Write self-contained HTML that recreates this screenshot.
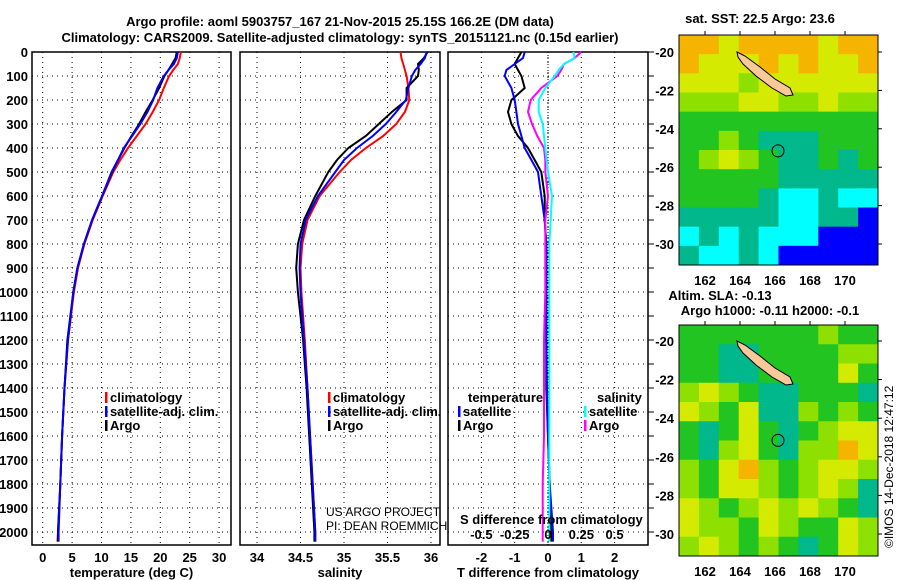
<!DOCTYPE html>
<html><head><meta charset="utf-8">
<style>
html,body{margin:0;padding:0;background:#fff;}
svg{display:block;font-family:"Liberation Sans",sans-serif;}
.b{font-weight:bold;font-size:13px;}
</style></head>
<body>
<svg id="s" width="900" height="580" xmlns="http://www.w3.org/2000/svg">
<text x="340" y="26" text-anchor="middle" class="b">Argo profile: aoml 5903757_167 21-Nov-2015 25.15S 166.2E (DM data)</text>
<text x="340" y="42" text-anchor="middle" class="b">Climatology: CARS2009. Satellite-adjusted climatology: synTS_20151121.nc (0.15d earlier)</text>
<g id="g"></g>
<text x="760" y="23" text-anchor="middle" class="b">sat. SST: 22.5 Argo: 23.6</text>
<text x="720" y="300" text-anchor="middle" class="b">Altim. SLA: -0.13</text>
<text x="770" y="315" text-anchor="middle" class="b">Argo h1000: -0.11 h2000: -0.1</text>
<text transform="translate(893,548) rotate(-90)" font-size="12">©IMOS 14-Dec-2018 12:47:12</text>
<text x="326" y="516" font-size="12">US ARGO PROJECT</text>
<text x="326" y="530" font-size="12">PI: DEAN ROEMMICH</text>
</svg>
<script>
// depth grid shared by profiles
const depths=[0,25,50,75,100,150,200,250,300,350,400,450,500,600,700,800,900,1000,1200,1400,1600,1800,2000,2040];
const tempClim=[23.5,23.3,23,22.2,21.5,20.6,19.8,18.7,17.5,16,14.5,13.2,12,10.2,8.5,7.1,6,5.3,4.3,3.7,3.3,3,2.6,2.5];
const tempSat=[23,22.8,22.3,21.4,20.6,19.5,18.8,17.8,16.6,15.2,13.8,12.8,11.7,10.1,8.4,7,5.9,5.2,4.3,3.7,3.3,3,2.7,2.7];
const tempArgo=[22.8,22.6,22,21.4,20.7,19.8,18.7,17.5,16.4,15.1,13.9,12.8,11.8,10.1,8.4,7,5.9,5.2,4.2,3.7,3.3,3,2.6,2.6];
const salClim=[35.65,35.66,35.68,35.7,35.72,35.74,35.75,35.7,35.6,35.45,35.25,35.08,34.95,34.72,34.58,34.52,34.5,34.51,34.55,34.58,34.61,34.64,34.67,34.67];
const salSat=[35.95,35.93,35.88,35.82,35.78,35.74,35.71,35.6,35.48,35.33,35.15,35.0,34.9,34.7,34.56,34.5,34.49,34.5,34.54,34.58,34.61,34.64,34.67,34.67];
const salArgo=[35.96,35.92,35.85,35.86,35.85,35.72,35.72,35.55,35.4,35.25,35.05,34.92,34.82,34.67,34.54,34.47,34.45,34.47,34.53,34.57,34.6,34.63,34.66,34.66];
const dTArgo=[-0.8,-0.9,-1.0,-0.9,-0.8,-0.7,-1.1,-1.2,-1.1,-0.9,-0.6,-0.4,-0.2,-0.1,-0.1,-0.05,-0.05,-0.05,-0.05,-0.05,0,0.05,0.1,0.1];
const dTSat=[-0.7,-0.75,-1.0,-1.25,-1.3,-1.1,-1.0,-0.95,-0.9,-0.8,-0.7,-0.5,-0.3,-0.2,-0.1,-0.05,-0.05,-0.05,-0.05,-0.03,0,0.05,0.15,0.15];
const dSSat=[0.19,0.2,0.12,0.08,0.05,-0.02,-0.07,-0.07,-0.04,-0.03,-0.02,-0.01,0,0.03,0.02,0.01,0.01,0.01,0.01,0.01,0.01,0.01,0.01,0.01];
const dSArgo=[0.25,0.2,0.12,0.1,0.07,-0.05,-0.13,-0.15,-0.12,-0.08,-0.03,-0.02,-0.02,0,-0.02,-0.02,-0.02,-0.02,-0.03,-0.03,-0.03,-0.04,-0.04,-0.04];
const depthTicks=[0,100,200,300,400,500,600,700,800,900,1000,1100,1200,1300,1400,1500,1600,1700,1800,1900,2000];
const tempTicks=[0,5,10,15,20,25,30];
const salTicks=[34,34.5,35,35.5,36];
const dTTicks=[-2,-1,0,1,2];
const dSTicks=["-0.5","-0.25","0","0.25","0.5"];
const map1Rows=["OOYOOOOYOO","OYYYOYOYYO","YYYLYYYYYY","LLLYYLLYLL","GGGGGGGGGG","GGLGTTTGGG","GLYLGTTGTG","GGGGGTTTTT","GGGGTCCTCC","TTTTTCCTTB","CTCTCCCBBB","TCCTCBBBBB"];
const map2Rows=["GGGGGGGLGG","GGTTGGGGLL","GGTTGGGGYG","LYLGTTGGGT","YLGYTTLGLG","GTGYGTGLYY","GTLYGTLLOY","LGYOLGLYYL","LGYYLGLYLT","YLGLYLYLGT","YLLGYLGGYL","LYLGLGTGYL"];
const lonTicks=[162,164,166,168,170];
const latTicks=[-20,-22,-24,-26,-28,-30];

const NS="http://www.w3.org/2000/svg";
const g=document.getElementById('g');
function mk(t,a,p){const e=document.createElementNS(NS,t);for(const k in a)e.setAttribute(k,a[k]);(p||g).appendChild(e);return e;}
const Y=d=>52+d*0.24, TOP=52, BOT=545;
const xT=v=>42.7+v*5.88, xS=v=>257+(v-34)*87, xD=v=>548+v*33.3, xDS=v=>548+v*133.2;
function panel(name,x0,x1,xt,ticks,labels,axisTitle){
  const grp=mk('g',{});
  
  
  ticks.forEach(t=>{const x=xt(t);mk('line',{x1:x,x2:x,y1:TOP,y2:BOT,stroke:'#000','stroke-dasharray':'1 4'},grp);});
  depthTicks.forEach(d=>{mk('line',{x1:x0,x2:x1,y1:Y(d),y2:Y(d),stroke:'#000','stroke-dasharray':'1 4'},grp);});
  mk('rect',{x:x0,y:TOP,width:x1-x0,height:BOT-TOP,fill:'none',stroke:'#000','stroke-width':1.5},grp);
  if(labels){ticks.forEach((t,i)=>{const e=mk('text',{x:xt(t),y:562,'text-anchor':'middle',class:'b'},grp);e.textContent=labels[i];});}
  const at=mk('text',{x:(x0+x1)/2,y:577,'text-anchor':'middle',class:'b'},grp);at.textContent=axisTitle;
  return grp;
}
function line(grp,xs,xf,col,name,w){
  const p=mk('polyline',{points:xs.map((v,i)=>xf(v).toFixed(1)+','+Y(depths[i]).toFixed(1)).join(' '),fill:'none',stroke:col,'stroke-width':w||2},grp);
  
  
}
function legend(grp,x,y,items){
  items.forEach((it,i)=>{mk('rect',{x:x,y:y+i*14-10,width:2.5,height:11,fill:it[1]},grp);
    const t=mk('text',{x:x+5,y:y+i*14,class:'b','font-size':12},grp);t.textContent=it[0];
    
    });
}
depthTicks.forEach(d=>{const t=mk('text',{x:28,y:Y(d)+5,'text-anchor':'end',class:'b'});t.textContent=d;});
const p1=panel('temperature-panel',32,231,xT,tempTicks,tempTicks,'temperature (deg C)');
line(p1,tempClim,xT,'#f00','temp-climatology-line');line(p1,tempArgo,xT,'#000','temp-argo-line');line(p1,tempSat,xT,'#00f','temp-satellite-line');
legend(p1,105,402,[['climatology','#f00'],['satellite-adj. clim.','#00f'],['Argo','#000']]);
const p2=panel('salinity-panel',240,440,xS,salTicks,salTicks,'salinity');
line(p2,salClim,xS,'#f00','sal-climatology-line');line(p2,salArgo,xS,'#000','sal-argo-line');line(p2,salSat,xS,'#00f','sal-satellite-line');
legend(p2,328,402,[['climatology','#f00'],['satellite-adj. clim.','#00f'],['Argo','#000']]);
const p3=panel('difference-panel',448,648,xD,dTTicks,dTTicks,'T difference from climatology');
depthTicks.forEach(d=>mk('line',{x1:648,x2:654,y1:Y(d),y2:Y(d),stroke:'#000'},p3));
mk('line',{x1:548,x2:548,y1:TOP,y2:BOT,stroke:'#000','stroke-dasharray':'1 2'},p3);
line(p3,dTArgo,xD,'#000','dT-argo-line');line(p3,dTSat,xD,'#00f','dT-satellite-line');
line(p3,dSArgo,xDS,'#f0f','dS-argo-line');line(p3,dSSat,xDS,'#0ff','dS-satellite-line');
legend(p3,458,416,[['satellite','#00f'],['Argo','#000']]);
legend(p3,584,416,[['satellite','#0ff'],['Argo','#f0f']]);
let tt=mk('text',{x:468,y:402,class:'b','font-size':12},p3);tt.textContent='temperature';
tt=mk('text',{x:597,y:402,class:'b','font-size':12},p3);tt.textContent='salinity';
tt=mk('text',{x:460,y:524,class:'b','font-size':12},p3);tt.textContent='S difference from climatology';
dSTicks.forEach((l,i)=>{const t=mk('text',{x:xDS(parseFloat(l)),y:539,'text-anchor':'middle',class:'b','font-size':12},p3);t.textContent=l;});
const pal={O:'#f4b400',Y:'#d4ea00',L:'#8ee000',G:'#22c422',T:'#00b88c',C:'#00ffff',B:'#0000ff'};
function map(name,x0,y0,w,h,rows,lat20,lat30,lonY,dy){
  const grp=mk('g',{});
  
  
  const cw=w/10,ch=h/rows.length;
  rows.forEach((r,i)=>[...r].forEach((c,j)=>mk('rect',{x:x0+j*cw,y:y0+i*ch,width:cw+0.5,height:ch+0.5,fill:pal[c]},grp)));
  const isl=mk('polygon',{points:[[737,52],[745,56],[760,67],[775,79],[790,88],[793,95],[786,96],[772,88],[756,76],[743,64],[738,57]].map(p=>p[0]+','+(p[1]+dy)).join(' '),fill:'#fbc89a',stroke:'#000'},grp);
  
  
  mk('circle',{cx:778,cy:lat20+(25.15-20)*(lat30-lat20)/10,r:6,fill:'none',stroke:'#000'},grp);
  mk('rect',{x:x0,y:y0,width:w,height:h,fill:'none',stroke:'#000'},grp);
  const lx=l=>705+(l-162)*17.5;
  lonTicks.forEach(l=>{mk('line',{x1:lx(l),x2:lx(l),y1:y0-4,y2:y0,stroke:'#000'},grp);const t=mk('text',{x:lx(l),y:lonY,'text-anchor':'middle',class:'b'},grp);t.textContent=l;});
  latTicks.forEach(l=>{const y=lat20+(-20-l)*(lat30-lat20)/10;mk('line',{x1:x0+w,x2:x0+w+4,y1:y,y2:y,stroke:'#000'},grp);const t=mk('text',{x:x0-5,y:y+5,'text-anchor':'end',class:'b'},grp);t.textContent=l;});
}
map('sst-map',679,35,199,230,map1Rows,52,244,285,0);
map('sla-map',679,325,199,231,map2Rows,341,534,576,289);
</script>
</body></html>
